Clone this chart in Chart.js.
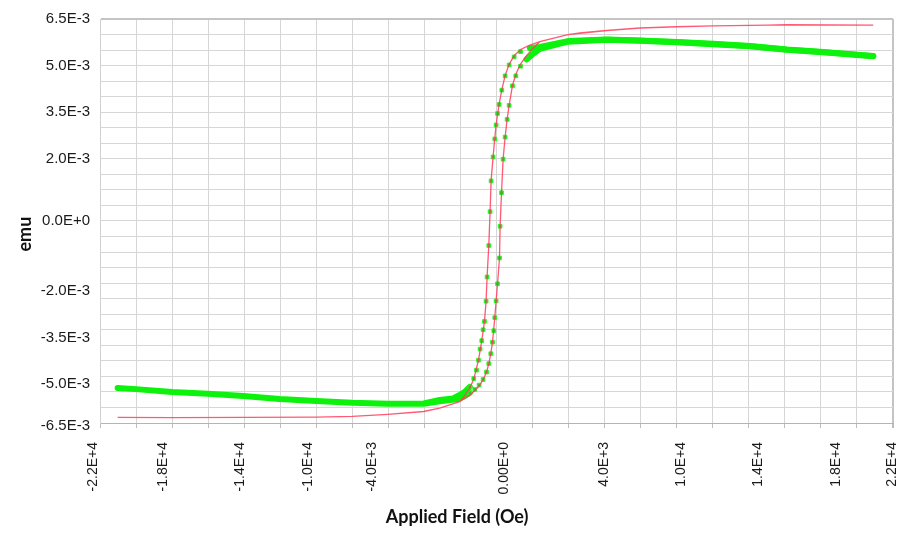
<!DOCTYPE html>
<html>
<head>
<meta charset="utf-8">
<script src="https://cdn.jsdelivr.net/npm/chart.js@4"></script>
<style>
  html, body { margin: 0; padding: 0; background: #fff; }
  canvas { display: block; }
</style>
</head>
<body>
<canvas id="loop_plot" width="899" height="534"></canvas>
<script>
'use strict';

// measured moment (green markers), branch coming down from +H
var downField = [20906, 18128, 16111, 14072, 12017, 10000, 7961, 6111, 3961, 2406,
    1850, 1333, 978, 700, 478, 294, 144, 56, -22, -94,
    -189, -300, -356, -428, -522, -578, -667, -744, -817, -911,
    -1000, -1111, -1261, -1483, -1761, -2039, -2411, -3150, -4039, -6039,
    -8000, -10000, -12039, -14039, -16000, -18000, -20000, -21022];
var downMoment = [0.00531, 0.00544, 0.00552, 0.00563, 0.00570, 0.00576, 0.00581, 0.00584, 0.00579, 0.00560,
    0.00556, 0.00545, 0.00528, 0.00502, 0.00467, 0.00421, 0.00375, 0.00346, 0.00309, 0.00264,
    0.00206, 0.00129, 0.00030, -0.00079, -0.00180, -0.00258, -0.00323, -0.00350, -0.00385, -0.00412,
    -0.00448, -0.00480, -0.00507, -0.00534, -0.00550, -0.00560, -0.00571, -0.00576, -0.00587, -0.00588,
    -0.00585, -0.00579, -0.00573, -0.00563, -0.00556, -0.00550, -0.00541, -0.00537];

// measured moment, branch going back up from -H
var upField = [-21022, -20000, -18000, -16000, -14039, -12039, -10000, -8000, -6039, -4039,
    -3150, -2222, -1856, -1483, -1206, -967, -744, -556, -428, -317,
    -222, -150, -94, -22, 56, 167, 200, 278, 367, 478,
    589, 700, 889, 1072, 1333, 1667, 2033, 2406, 3961, 6111,
    7961, 10000, 12017, 14072, 16111, 18128, 20906];
var upMoment = [-0.00537, -0.00541, -0.00550, -0.00556, -0.00563, -0.00573, -0.00579, -0.00585, -0.00588, -0.00588,
    -0.00580, -0.00574, -0.00566, -0.00553, -0.00542, -0.00528, -0.00510, -0.00486, -0.00459, -0.00427,
    -0.00390, -0.00353, -0.00311, -0.00257, -0.00202, -0.00119, -0.00017, 0.00091, 0.00199, 0.00270,
    0.00327, 0.00372, 0.00435, 0.00467, 0.00498, 0.00520, 0.00538, 0.00554, 0.00577, 0.00583,
    0.00580, 0.00575, 0.00569, 0.00562, 0.00551, 0.00543, 0.00530];

// fitted curve (red line)
var fitDownField = [20906, 16072, 12017, 10000, 7961, 6111, 4628, 3961, 2406, 1850,
    1333, 978, 700, 478, 294, 144, -22, -189, -300, -356,
    -428, -522, -578, -667, -817, -1000, -1261, -1483, -1761, -2039,
    -3150, -4039, -6039, -8000, -10000, -14039, -18000, -21022];
var fitDownMoment = [0.00630, 0.00631, 0.00628, 0.00625, 0.00621, 0.00613, 0.00605, 0.00600, 0.00577, 0.00566,
    0.00552, 0.00532, 0.00504, 0.00468, 0.00422, 0.00376, 0.00310, 0.00207, 0.00129, 0.00030,
    -0.00079, -0.00180, -0.00258, -0.00323, -0.00385, -0.00448, -0.00509, -0.00537, -0.00562, -0.00581,
    -0.00602, -0.00613, -0.00622, -0.00629, -0.00631, -0.00632, -0.00633, -0.00632];
var fitUpField = [-21022, -18000, -14039, -10000, -8000, -6039, -4039, -3150, -2039, -1483,
    -1206, -967, -744, -556, -428, -317, -222, -94, -22, 56,
    167, 200, 278, 367, 478, 589, 700, 889, 1072, 1333,
    1667, 2033, 2406, 3961, 6111, 7961, 10000, 12017, 16072, 20906];
var fitUpMoment = [-0.00632, -0.00633, -0.00632, -0.00631, -0.00629, -0.00622, -0.00613, -0.00602, -0.00581, -0.00560,
    -0.00546, -0.00531, -0.00511, -0.00487, -0.00459, -0.00427, -0.00390, -0.00311, -0.00257, -0.00202,
    -0.00119, -0.00017, 0.00091, 0.00199, 0.00270, 0.00327, 0.00372, 0.00437, 0.00472, 0.00505,
    0.00532, 0.00556, 0.00577, 0.00600, 0.00613, 0.00621, 0.00625, 0.00628, 0.00631, 0.00630];

// tick labels as printed on the original plot, and where they sit
var xTickAt = [-22400, -18500, -14250, -10450, -6900, 400, 5950, 10250, 14500, 18850, 21950];
var xTickLabels = ['-2.2E+4', '-1.8E+4', '-1.4E+4', '-1.0E+4', '-4.0E+3', '0.00E+0', '4.0E+3', '1.0E+4', '1.4E+4', '1.8E+4', '2.2E+4'];
var yTickAt = [0.0065, 0.005, 0.0035, 0.002, 0, -0.00225, -0.00375, -0.00525, -0.0066];
var yTickLabels = ['6.5E-3', '5.0E-3', '3.5E-3', '2.0E-3', '0.0E+0', '-2.0E-3', '-3.5E-3', '-5.0E-3', '-6.5E-3'];

var GRID = '#d6d6d6';
var EDGE = '#c4c4c4';
var BAND = '#0cf20c';
var CLEAR = 'rgba(0,0,0,0)';
// outside this field the dense markers merge into a solid band
var BAND_FROM = 1400;

function toPoints(xs, ys) {
    return xs.map(function (x, i) {
        return {x: x, y: ys[i]};
    });
}

// gridlines every `step`, plus label-only ticks that draw no gridline
function buildTicks(min, max, step, at, labels) {
    var ticks = [];
    var n = Math.round((max - min) / step);
    for (var i = 0; i <= n; i++) {
        ticks.push({value: min + i * step, grid: true, edge: i === n, text: ''});
    }
    at.forEach(function (v, i) {
        ticks.push({value: v, grid: false, text: labels[i]});
    });
    return ticks;
}

function gridColor(ctx) {
    if (!ctx.tick || !ctx.tick.grid) return CLEAR;
    return ctx.tick.edge ? EDGE : GRID;
}

function gridWidth(ctx) {
    return ctx.tick && ctx.tick.edge ? 2 : 1;
}

function tickText(value, index, ticks) {
    return ticks[index].text;
}

var tickFont = {family: 'Liberation Sans', size: 14};
var titleFont = {family: 'Lato', weight: 'bold', size: 18};

new Chart(document.getElementById('loop_plot').getContext('2d'), {
    type: 'scatter',
    data: {
        datasets: [{
            label: 'fit',
            data: toPoints(fitDownField, fitDownMoment).concat(toPoints(fitUpField, fitUpMoment)),
            showLine: true,
            borderColor: 'rgba(255, 60, 90, 0.85)',
            borderWidth: 1.3,
            pointRadius: 0,
            order: 0
        }, {
            label: 'moment',
            data: toPoints(downField, downMoment).concat(toPoints(upField, upMoment)),
            showLine: true,
            borderColor: BAND,
            borderWidth: 6,
            borderCapStyle: 'round',
            borderJoinStyle: 'round',
            segment: {
                borderColor: function (ctx) {
                    return Math.abs(ctx.p0.parsed.x) >= BAND_FROM && Math.abs(ctx.p1.parsed.x) >= BAND_FROM ? BAND : CLEAR;
                }
            },
            pointStyle: 'rect',
            pointRadius: function (ctx) {
                return ctx.raw && Math.abs(ctx.raw.x) < BAND_FROM + 100 ? 2.6 : 0;
            },
            pointBackgroundColor: '#2fc52f',
            pointBorderColor: '#22ff22',
            pointBorderWidth: 1,
            order: 1
        }]
    },
    options: {
        responsive: false,
        animation: false,
        events: [],
        layout: {
            padding: {top: 16, right: 6, left: 0, bottom: 0}
        },
        plugins: {
            legend: {display: false},
            tooltip: {enabled: false}
        },
        scales: {
            x: {
                type: 'linear',
                min: -22000,
                max: 22000,
                afterBuildTicks: function (scale) {
                    scale.ticks = buildTicks(-22000, 22000, 2000, xTickAt, xTickLabels);
                },
                afterFit: function (scale) {
                    scale.height = 111;
                    scale.paddingLeft = 0;
                    scale.paddingRight = 0;
                },
                ticks: {
                    autoSkip: false,
                    minRotation: 90,
                    maxRotation: 90,
                    padding: 14,
                    color: '#1a1a1a',
                    font: tickFont,
                    callback: tickText
                },
                grid: {
                    color: gridColor,
                    lineWidth: gridWidth,
                    tickLength: 5,
                    tickColor: function (ctx) {
                        return ctx.tick && ctx.tick.grid ? '#bdbdbd' : CLEAR;
                    }
                },
                border: {color: '#b4b4b4', width: 1},
                title: {
                    display: true,
                    // trailing spaces pull the centred title left, as in the original
                    text: 'Applied Field (Oe)' + ' '.repeat(18),
                    color: '#111',
                    font: titleFont,
                    padding: {top: 0, bottom: 6}
                }
            },
            y: {
                type: 'linear',
                min: -0.0065,
                max: 0.0065,
                afterBuildTicks: function (scale) {
                    scale.ticks = buildTicks(-0.0065, 0.0065, 0.0005, yTickAt, yTickLabels);
                },
                afterFit: function (scale) {
                    scale.width = 100;
                },
                ticks: {
                    autoSkip: false,
                    padding: 10,
                    color: '#1a1a1a',
                    font: {family: 'Liberation Sans', size: 15},
                    callback: tickText
                },
                grid: {
                    color: gridColor,
                    lineWidth: gridWidth,
                    drawTicks: false
                },
                border: {color: '#d0d0d0', width: 1},
                title: {
                    display: true,
                    text: 'emu' + ' '.repeat(6),
                    color: '#111',
                    font: titleFont,
                    padding: {top: 14, bottom: 0}
                }
            }
        }
    }
});
</script>
</body>
</html>
